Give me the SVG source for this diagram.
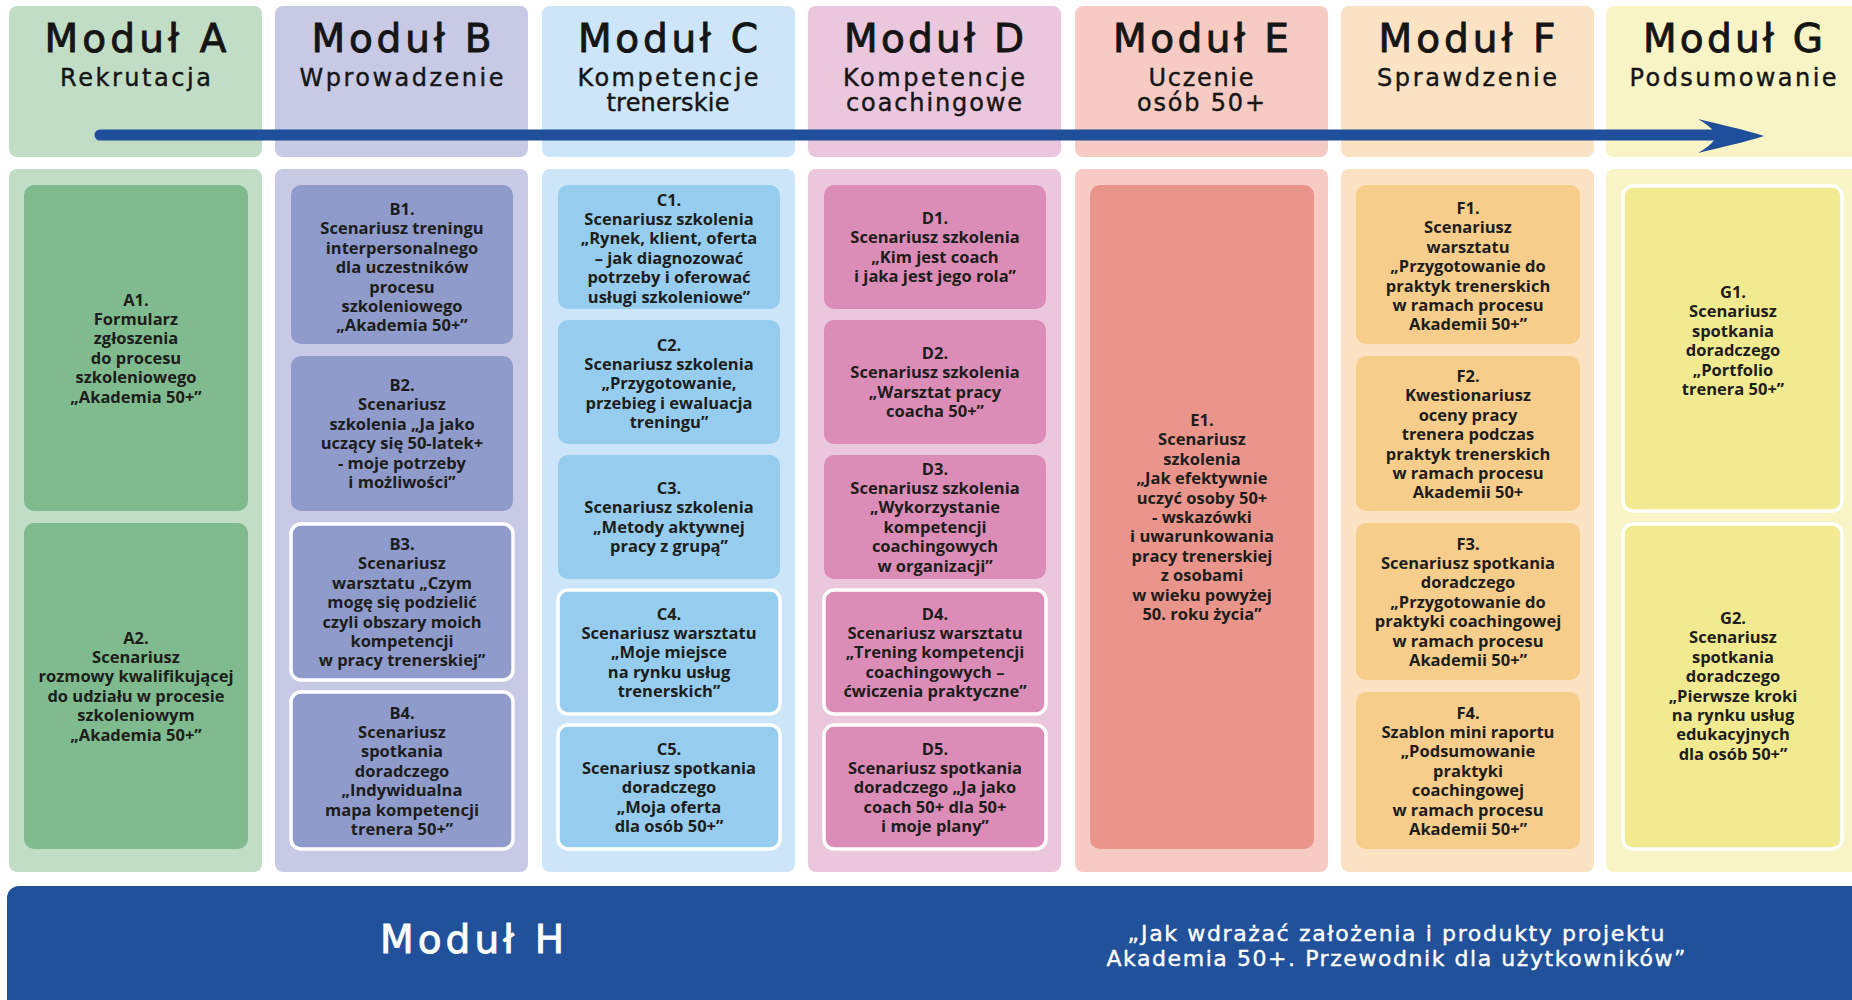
<svg xmlns="http://www.w3.org/2000/svg" width="1852" height="1000" viewBox="0 0 1852 1000">
<style>
.t{font-family:"DejaVu Sans",sans-serif;font-size:39px;fill:#151515;stroke:#151515;stroke-width:0.9;text-anchor:middle}
.s{font-family:"DejaVu Sans",sans-serif;font-size:24px;fill:#151515;stroke:#151515;stroke-width:0.4;text-anchor:middle}
.b{font-family:"Open Sans","Liberation Sans",sans-serif;font-weight:700;font-size:16.5px;fill:#1d1d1b;text-anchor:middle}
.h{font-family:"DejaVu Sans",sans-serif;fill:#ffffff;stroke:#ffffff;text-anchor:middle}
.wb{stroke:#ffffff;stroke-width:3.5}
.pA{fill:#c2ddc6}.bA{fill:#80bb8f}
.pB{fill:#c7c9e5}.bB{fill:#8e9bcb}
.pC{fill:#cde5f8}.bC{fill:#96cdef}
.pD{fill:#ebc7de}.bD{fill:#db8db8}
.pE{fill:#f6cbc3}.bE{fill:#e9958c}
.pF{fill:#fbe2c2}.bF{fill:#f7cd8c}
.pG{fill:#f8f4c6}.bG{fill:#f2ea90}
</style>
<rect width="1852" height="1000" fill="#ffffff"/>

<g id="modul-a">
<rect class="pA" x="9" y="6" width="253" height="151" rx="8"/>
<rect class="pA" x="9" y="169" width="253" height="703" rx="8"/>
<text class="t" x="135.5" y="52" textLength="182" lengthAdjust="spacing">Moduł A</text>
<text class="s" x="135.5" y="86" textLength="151" lengthAdjust="spacing">Rekrutacja</text>
</g>
<g id="modul-b">
<rect class="pB" x="275" y="6" width="253" height="151" rx="8"/>
<rect class="pB" x="275" y="169" width="253" height="703" rx="8"/>
<text class="t" x="401.5" y="52" textLength="180" lengthAdjust="spacing">Moduł B</text>
<text class="s" x="401.5" y="86" textLength="204" lengthAdjust="spacing">Wprowadzenie</text>
</g>
<g id="modul-c">
<rect class="pC" x="542" y="6" width="253" height="151" rx="8"/>
<rect class="pC" x="542" y="169" width="253" height="703" rx="8"/>
<text class="t" x="668" y="52" textLength="180" lengthAdjust="spacing">Moduł C</text>
<text class="s" x="668" y="86" textLength="181" lengthAdjust="spacing">Kompetencje</text>
<text class="s" x="668" y="111" textLength="123" lengthAdjust="spacing">trenerskie</text>
</g>
<g id="modul-d">
<rect class="pD" x="808" y="6" width="253" height="151" rx="8"/>
<rect class="pD" x="808" y="169" width="253" height="703" rx="8"/>
<text class="t" x="934" y="52" textLength="180" lengthAdjust="spacing">Moduł D</text>
<text class="s" x="934" y="86" textLength="182" lengthAdjust="spacing">Kompetencje</text>
<text class="s" x="934" y="111" textLength="176" lengthAdjust="spacing">coachingowe</text>
</g>
<g id="modul-e">
<rect class="pE" x="1075" y="6" width="253" height="151" rx="8"/>
<rect class="pE" x="1075" y="169" width="253" height="703" rx="8"/>
<text class="t" x="1201" y="52" textLength="176" lengthAdjust="spacing">Moduł E</text>
<text class="s" x="1201" y="86" textLength="105" lengthAdjust="spacing">Uczenie</text>
<text class="s" x="1201" y="111" textLength="128" lengthAdjust="spacing">osób 50+</text>
</g>
<g id="modul-f">
<rect class="pF" x="1341" y="6" width="253" height="151" rx="8"/>
<rect class="pF" x="1341" y="169" width="253" height="703" rx="8"/>
<text class="t" x="1467" y="52" textLength="177" lengthAdjust="spacing">Moduł F</text>
<text class="s" x="1467" y="86" textLength="180" lengthAdjust="spacing">Sprawdzenie</text>
</g>
<g id="modul-g">
<rect class="pG" x="1606" y="6" width="260" height="151" rx="8"/>
<rect class="pG" x="1606" y="169" width="260" height="703" rx="8"/>
<text class="t" x="1733" y="52" textLength="180" lengthAdjust="spacing">Moduł G</text>
<text class="s" x="1733" y="86" textLength="207" lengthAdjust="spacing">Podsumowanie</text>
</g>

<g id="connectors">
<line x1="100" y1="135" x2="1712" y2="135" stroke="#1f4e9b" stroke-width="11" stroke-linecap="round"/>
<path d="M1698,119 C1722,125 1746,130 1764,136 C1746,142 1722,147 1698,153 C1710,146 1715,141 1715,136 C1715,131 1710,126 1698,119 Z" fill="#1f4e9b"/>
</g>

<g id="A1">
<rect class="bA" x="24" y="185" width="224" height="326" rx="10"/>
<text class="b" x="136" y="305.5"><tspan x="136">A1.</tspan><tspan x="136" dy="19.4">Formularz</tspan><tspan x="136" dy="19.4">zgłoszenia</tspan><tspan x="136" dy="19.4">do procesu</tspan><tspan x="136" dy="19.4">szkoleniowego</tspan><tspan x="136" dy="19.4">„Akademia 50+”</tspan></text>
</g>
<g id="A2">
<rect class="bA" x="24" y="523" width="224" height="326" rx="10"/>
<text class="b" x="136" y="643.5"><tspan x="136">A2.</tspan><tspan x="136" dy="19.4">Scenariusz</tspan><tspan x="136" dy="19.4">rozmowy kwalifikującej</tspan><tspan x="136" dy="19.4">do udziału w procesie</tspan><tspan x="136" dy="19.4">szkoleniowym</tspan><tspan x="136" dy="19.4">„Akademia 50+”</tspan></text>
</g>

<g id="B1">
<rect class="bB" x="291" y="185" width="222" height="159" rx="10"/>
<text class="b" x="402" y="215"><tspan x="402">B1.</tspan><tspan x="402" dy="19.4">Scenariusz treningu</tspan><tspan x="402" dy="19.4">interpersonalnego</tspan><tspan x="402" dy="19.4">dla uczestników</tspan><tspan x="402" dy="19.4">procesu</tspan><tspan x="402" dy="19.4">szkoleniowego</tspan><tspan x="402" dy="19.4">„Akademia 50+”</tspan></text>
</g>
<g id="B2">
<rect class="bB" x="291" y="356" width="222" height="155" rx="10"/>
<text class="b" x="402" y="391"><tspan x="402">B2.</tspan><tspan x="402" dy="19.4">Scenariusz</tspan><tspan x="402" dy="19.4">szkolenia „Ja jako</tspan><tspan x="402" dy="19.4">uczący się 50-latek+</tspan><tspan x="402" dy="19.4">- moje potrzeby</tspan><tspan x="402" dy="19.4">i możliwości”</tspan></text>
</g>
<g id="B3">
<rect class="bB wb" x="291" y="524" width="222" height="156" rx="10"/>
<text class="b" x="402" y="550"><tspan x="402">B3.</tspan><tspan x="402" dy="19.4">Scenariusz</tspan><tspan x="402" dy="19.4">warsztatu „Czym</tspan><tspan x="402" dy="19.4">mogę się podzielić</tspan><tspan x="402" dy="19.4">czyli obszary moich</tspan><tspan x="402" dy="19.4">kompetencji</tspan><tspan x="402" dy="19.4">w pracy trenerskiej”</tspan></text>
</g>
<g id="B4">
<rect class="bB wb" x="291" y="692" width="222" height="157" rx="10"/>
<text class="b" x="402" y="718.5"><tspan x="402">B4.</tspan><tspan x="402" dy="19.4">Scenariusz</tspan><tspan x="402" dy="19.4">spotkania</tspan><tspan x="402" dy="19.4">doradczego</tspan><tspan x="402" dy="19.4">„Indywidualna</tspan><tspan x="402" dy="19.4">mapa kompetencji</tspan><tspan x="402" dy="19.4">trenera 50+”</tspan></text>
</g>

<g id="C1">
<rect class="bC" x="558" y="185" width="222" height="124" rx="10"/>
<text class="b" x="669" y="205.5"><tspan x="669">C1.</tspan><tspan x="669" dy="19.4">Scenariusz szkolenia</tspan><tspan x="669" dy="19.4">„Rynek, klient, oferta</tspan><tspan x="669" dy="19.4">– jak diagnozować</tspan><tspan x="669" dy="19.4">potrzeby i oferować</tspan><tspan x="669" dy="19.4">usługi szkoleniowe”</tspan></text>
</g>
<g id="C2">
<rect class="bC" x="558" y="320" width="222" height="124" rx="10"/>
<text class="b" x="669" y="350.5"><tspan x="669">C2.</tspan><tspan x="669" dy="19.4">Scenariusz szkolenia</tspan><tspan x="669" dy="19.4">„Przygotowanie,</tspan><tspan x="669" dy="19.4">przebieg i ewaluacja</tspan><tspan x="669" dy="19.4">treningu”</tspan></text>
</g>
<g id="C3">
<rect class="bC" x="558" y="455" width="222" height="124" rx="10"/>
<text class="b" x="669" y="494"><tspan x="669">C3.</tspan><tspan x="669" dy="19.4">Scenariusz szkolenia</tspan><tspan x="669" dy="19.4">„Metody aktywnej</tspan><tspan x="669" dy="19.4">pracy z grupą”</tspan></text>
</g>
<g id="C4">
<rect class="bC wb" x="558" y="590" width="222" height="124" rx="10"/>
<text class="b" x="669" y="619.5"><tspan x="669">C4.</tspan><tspan x="669" dy="19.4">Scenariusz warsztatu</tspan><tspan x="669" dy="19.4">„Moje miejsce</tspan><tspan x="669" dy="19.4">na rynku usług</tspan><tspan x="669" dy="19.4">trenerskich”</tspan></text>
</g>
<g id="C5">
<rect class="bC wb" x="558" y="725" width="222" height="124" rx="10"/>
<text class="b" x="669" y="754.5"><tspan x="669">C5.</tspan><tspan x="669" dy="19.4">Scenariusz spotkania</tspan><tspan x="669" dy="19.4">doradczego</tspan><tspan x="669" dy="19.4">„Moja oferta</tspan><tspan x="669" dy="19.4">dla osób 50+”</tspan></text>
</g>

<g id="D1">
<rect class="bD" x="824" y="185" width="222" height="124" rx="10"/>
<text class="b" x="935" y="224"><tspan x="935">D1.</tspan><tspan x="935" dy="19.4">Scenariusz szkolenia</tspan><tspan x="935" dy="19.4">„Kim jest coach</tspan><tspan x="935" dy="19.4">i jaka jest jego rola”</tspan></text>
</g>
<g id="D2">
<rect class="bD" x="824" y="320" width="222" height="124" rx="10"/>
<text class="b" x="935" y="359"><tspan x="935">D2.</tspan><tspan x="935" dy="19.4">Scenariusz szkolenia</tspan><tspan x="935" dy="19.4">„Warsztat pracy</tspan><tspan x="935" dy="19.4">coacha 50+”</tspan></text>
</g>
<g id="D3">
<rect class="bD" x="824" y="455" width="222" height="124" rx="10"/>
<text class="b" x="935" y="474.5"><tspan x="935">D3.</tspan><tspan x="935" dy="19.4">Scenariusz szkolenia</tspan><tspan x="935" dy="19.4">„Wykorzystanie</tspan><tspan x="935" dy="19.4">kompetencji</tspan><tspan x="935" dy="19.4">coachingowych</tspan><tspan x="935" dy="19.4">w organizacji”</tspan></text>
</g>
<g id="D4">
<rect class="bD wb" x="824" y="590" width="222" height="124" rx="10"/>
<text class="b" x="935" y="619.5"><tspan x="935">D4.</tspan><tspan x="935" dy="19.4">Scenariusz warsztatu</tspan><tspan x="935" dy="19.4">„Trening kompetencji</tspan><tspan x="935" dy="19.4">coachingowych –</tspan><tspan x="935" dy="19.4">ćwiczenia praktyczne”</tspan></text>
</g>
<g id="D5">
<rect class="bD wb" x="824" y="725" width="222" height="124" rx="10"/>
<text class="b" x="935" y="754.5"><tspan x="935">D5.</tspan><tspan x="935" dy="19.4">Scenariusz spotkania</tspan><tspan x="935" dy="19.4">doradczego „Ja jako</tspan><tspan x="935" dy="19.4">coach 50+ dla 50+</tspan><tspan x="935" dy="19.4">i moje plany”</tspan></text>
</g>

<g id="E1">
<rect class="bE" x="1090" y="185" width="224" height="664" rx="10"/>
<text class="b" x="1202" y="426"><tspan x="1202">E1.</tspan><tspan x="1202" dy="19.4">Scenariusz</tspan><tspan x="1202" dy="19.4">szkolenia</tspan><tspan x="1202" dy="19.4">„Jak efektywnie</tspan><tspan x="1202" dy="19.4">uczyć osoby 50+</tspan><tspan x="1202" dy="19.4">- wskazówki</tspan><tspan x="1202" dy="19.4">i uwarunkowania</tspan><tspan x="1202" dy="19.4">pracy trenerskiej</tspan><tspan x="1202" dy="19.4">z osobami</tspan><tspan x="1202" dy="19.4">w wieku powyżej</tspan><tspan x="1202" dy="19.4">50. roku życia”</tspan></text>
</g>

<g id="F1">
<rect class="bF" x="1356" y="185" width="224" height="159" rx="10"/>
<text class="b" x="1468" y="214"><tspan x="1468">F1.</tspan><tspan x="1468" dy="19.4">Scenariusz</tspan><tspan x="1468" dy="19.4">warsztatu</tspan><tspan x="1468" dy="19.4">„Przygotowanie do</tspan><tspan x="1468" dy="19.4">praktyk trenerskich</tspan><tspan x="1468" dy="19.4">w ramach procesu</tspan><tspan x="1468" dy="19.4">Akademii 50+”</tspan></text>
</g>
<g id="F2">
<rect class="bF" x="1356" y="356" width="224" height="155" rx="10"/>
<text class="b" x="1468" y="382"><tspan x="1468">F2.</tspan><tspan x="1468" dy="19.4">Kwestionariusz</tspan><tspan x="1468" dy="19.4">oceny pracy</tspan><tspan x="1468" dy="19.4">trenera podczas</tspan><tspan x="1468" dy="19.4">praktyk trenerskich</tspan><tspan x="1468" dy="19.4">w ramach procesu</tspan><tspan x="1468" dy="19.4">Akademii 50+</tspan></text>
</g>
<g id="F3">
<rect class="bF" x="1356" y="523" width="224" height="157" rx="10"/>
<text class="b" x="1468" y="549.5"><tspan x="1468">F3.</tspan><tspan x="1468" dy="19.4">Scenariusz spotkania</tspan><tspan x="1468" dy="19.4">doradczego</tspan><tspan x="1468" dy="19.4">„Przygotowanie do</tspan><tspan x="1468" dy="19.4">praktyki coachingowej</tspan><tspan x="1468" dy="19.4">w ramach procesu</tspan><tspan x="1468" dy="19.4">Akademii 50+”</tspan></text>
</g>
<g id="F4">
<rect class="bF" x="1356" y="692" width="224" height="157" rx="10"/>
<text class="b" x="1468" y="718.5"><tspan x="1468">F4.</tspan><tspan x="1468" dy="19.4">Szablon mini raportu</tspan><tspan x="1468" dy="19.4">„Podsumowanie</tspan><tspan x="1468" dy="19.4">praktyki</tspan><tspan x="1468" dy="19.4">coachingowej</tspan><tspan x="1468" dy="19.4">w ramach procesu</tspan><tspan x="1468" dy="19.4">Akademii 50+”</tspan></text>
</g>

<g id="G1">
<rect class="bG wb" x="1623" y="186" width="219" height="325" rx="10"/>
<text class="b" x="1733" y="298"><tspan x="1733">G1.</tspan><tspan x="1733" dy="19.4">Scenariusz</tspan><tspan x="1733" dy="19.4">spotkania</tspan><tspan x="1733" dy="19.4">doradczego</tspan><tspan x="1733" dy="19.4">„Portfolio</tspan><tspan x="1733" dy="19.4">trenera 50+”</tspan></text>
</g>
<g id="G2">
<rect class="bG wb" x="1623" y="524" width="219" height="325" rx="10"/>
<text class="b" x="1733" y="624"><tspan x="1733">G2.</tspan><tspan x="1733" dy="19.4">Scenariusz</tspan><tspan x="1733" dy="19.4">spotkania</tspan><tspan x="1733" dy="19.4">doradczego</tspan><tspan x="1733" dy="19.4">„Pierwsze kroki</tspan><tspan x="1733" dy="19.4">na rynku usług</tspan><tspan x="1733" dy="19.4">edukacyjnych</tspan><tspan x="1733" dy="19.4">dla osób 50+”</tspan></text>
</g>

<g id="modul-h">
<rect x="7" y="886" width="1870" height="140" rx="12" fill="#21519b"/>
<text class="h" x="472" y="953" font-size="39" stroke-width="0.9" textLength="184" lengthAdjust="spacing">Moduł H</text>
<text class="h" x="1396" y="941" font-size="22" stroke-width="0.4" textLength="537" lengthAdjust="spacing">„Jak wdrażać założenia i produkty projektu</text>
<text class="h" x="1396" y="966" font-size="22" stroke-width="0.4" textLength="579" lengthAdjust="spacing">Akademia 50+. Przewodnik dla użytkowników”</text>
</g>
</svg>
